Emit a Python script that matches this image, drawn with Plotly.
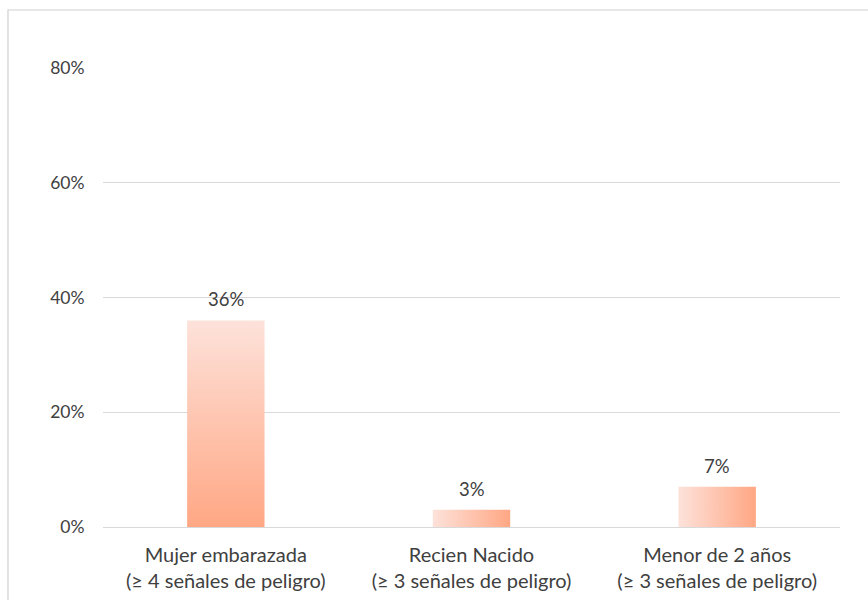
import plotly.graph_objects as go

# Share of respondents recognising danger signs, by group
categories = [
    "Mujer embarazada<br>(≥ 4 señales de peligro)",
    "Recien Nacido<br>(≥ 3 señales de peligro)",
    "Menor de 2 años<br>(≥ 3 señales de peligro)",
]
values = [0.36, 0.03, 0.07]
value_labels = ["36%", "3%", "7%"]
y_ticks = [0, 0.2, 0.4, 0.6, 0.8]
y_tick_labels = ["0%", "20%", "40%", "60%", "80%"]

BAR_WIDTH = 0.315
LIGHT = "#fde2da"
DARK = "#ffa784"
TEXT = "#404040"
GRID = "#d9d9d9"
FONT = "Lato, Liberation Sans, sans-serif"

positions = list(range(len(categories)))

fig = go.Figure()

# Each bar is a filled polygon so it can carry a gradient fill
for pos, val in zip(positions, values):
    x0, x1 = pos - BAR_WIDTH / 2, pos + BAR_WIDTH / 2
    tall = val > 0.15
    if tall:
        grad = dict(type="vertical", colorscale=[[0, DARK], [1, LIGHT]])
    else:
        grad = dict(type="horizontal", colorscale=[[0, LIGHT], [1, DARK]])
    fig.add_trace(go.Scatter(
        x=[x0, x1, x1, x0, x0],
        y=[0, 0, val, val, 0],
        mode="lines",
        line=dict(width=0),
        fill="toself",
        fillgradient=grad,
        hoverinfo="skip",
        showlegend=False,
    ))

# Value labels above the bars
annotations = [
    dict(x=pos, y=val, xref="x", yref="y", text=lab, showarrow=False,
         yanchor="bottom", yshift=8,
         font=dict(family=FONT, size=18.5, color=TEXT))
    for pos, val, lab in zip(positions, values, value_labels)
]

fig.update_layout(
    width=868,
    height=600,
    margin=dict(l=103, r=28, t=68, b=73, autoexpand=False),
    paper_bgcolor="white",
    plot_bgcolor="white",
    font=dict(family=FONT, color=TEXT),
    annotations=annotations,
    xaxis=dict(
        range=[-0.5, 2.5],
        tickvals=positions,
        ticktext=categories,
        tickfont=dict(family=FONT, size=20, color=TEXT),
        ticklabelstandoff=14,
        automargin=False,
        showgrid=False,
        zeroline=False,
        showline=False,
        ticks="",
        fixedrange=True,
    ),
    yaxis=dict(
        range=[0, 0.8],
        tickvals=y_ticks,
        ticktext=y_tick_labels,
        tickfont=dict(family=FONT, size=17.5, color=TEXT),
        automargin=False,
        showgrid=True,
        gridcolor=GRID,
        gridwidth=1,
        zeroline=True,
        zerolinecolor=GRID,
        zerolinewidth=1,
        showline=False,
        ticks="outside",
        ticklen=14,
        tickcolor="rgba(0,0,0,0)",
        fixedrange=True,
    ),
    shapes=[
        # chart frame
        dict(type="rect", xref="paper", yref="paper",
             x0=-0.1289, x1=1.3, y0=-0.4, y1=1.1264,
             line=dict(color="#d0d0d0", width=1.2),
             fillcolor="rgba(0,0,0,0)", layer="below"),
    ],
)

fig.write_html("out.html")
